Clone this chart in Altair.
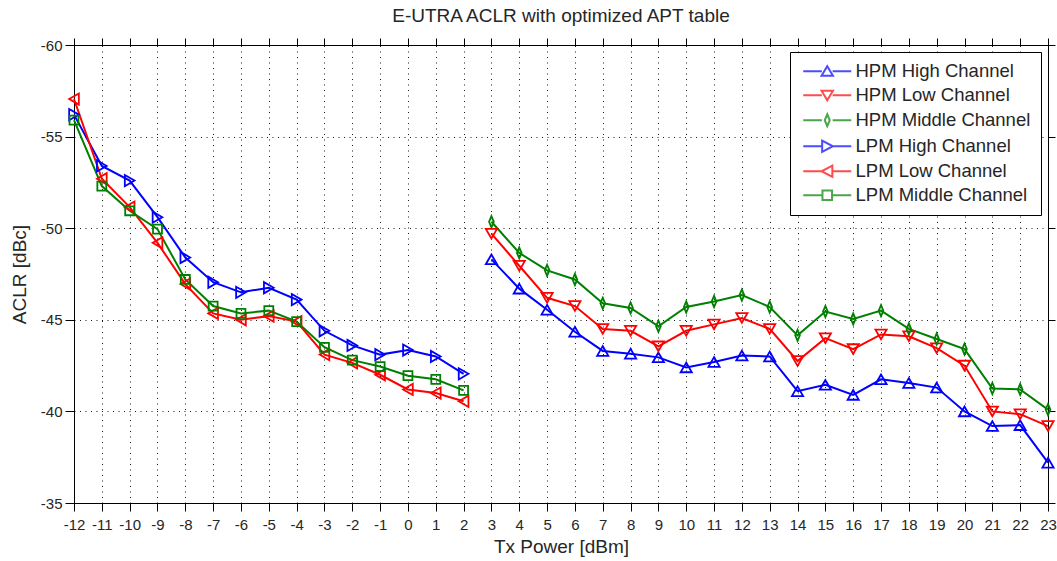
import altair as alt
import pandas as pd

series_names = ["HPM High Channel", "HPM Low Channel", "HPM Middle Channel",
                "LPM High Channel", "LPM Low Channel", "LPM Middle Channel"]
series_colors = ["#0000ff", "#ff0000", "#008000", "#0000ff", "#ff0000", "#008000"]

x_lpm = list(range(-12, 3))
lpm_high = [-56.2, -53.4, -52.6, -50.6, -48.4, -47.05, -46.5, -46.75, -46.1, -44.4, -43.6, -43.1, -43.35, -43.0, -42.05]
lpm_low = [-57.05, -52.7, -51.15, -49.2, -46.95, -45.35, -45.0, -45.2, -44.9, -43.1, -42.65, -42.0, -41.2, -41.0, -40.55]
lpm_mid = [-55.9, -52.3, -50.95, -49.95, -47.2, -45.75, -45.35, -45.5, -44.9, -43.5, -42.8, -42.45, -41.95, -41.75, -41.15]

x_hpm = list(range(3, 24))
hpm_high = [-48.3, -46.7, -45.55, -44.35, -43.3, -43.15, -42.95, -42.4, -42.7, -43.05, -43.0,
            -41.1, -41.45, -40.9, -41.75, -41.55, -41.3, -40.0, -39.2, -39.25, -37.2]
hpm_low = [-49.7, -47.95, -46.2, -45.75, -44.5, -44.4, -43.55, -44.4, -44.75, -45.1, -44.5,
           -42.75, -44.0, -43.4, -44.2, -44.1, -43.45, -42.5, -40.0, -39.85, -39.2]
hpm_mid = [-50.35, -48.65, -47.7, -47.2, -45.9, -45.65, -44.65, -45.7, -46.0, -46.35, -45.7,
           -44.15, -45.45, -45.05, -45.5, -44.5, -43.95, -43.4, -41.25, -41.2, -40.1]

x_ticks = list(range(-12, 24))
y_ticks = [-60, -55, -50, -45, -40, -35]

rows = []
for name, xs, ys in [
    ("HPM High Channel", x_hpm, hpm_high),
    ("HPM Low Channel", x_hpm, hpm_low),
    ("HPM Middle Channel", x_hpm, hpm_mid),
    ("LPM High Channel", x_lpm, lpm_high),
    ("LPM Low Channel", x_lpm, lpm_low),
    ("LPM Middle Channel", x_lpm, lpm_mid),
]:
    for xv, yv in zip(xs, ys):
        rows.append({"series": name, "x": xv, "y": yv})
df = pd.DataFrame(rows)

FONT = "Liberation Sans, Arial"

marker_shapes = ["triangle-up", "triangle-down", "M0,-1L0.42,0L0,1L-0.42,0Z",
                 "triangle-right", "triangle-left", "M-0.8,-0.8L0.8,-0.8L0.8,0.8L-0.8,0.8Z"]
# legend glyphs: line segment plus marker (unit = half of sqrt(size))
LINE = "M-1,0L2.1,0M3.9,0L7,0"
legend_shapes = [
    LINE + "M3,-0.85L3.95,0.75L2.05,0.75Z",
    LINE + "M2.05,-0.75L3.95,-0.75L3,0.85Z",
    LINE + "M3,-1L3.42,0L3,1L2.58,0Z",
    LINE + "M2.15,-0.95L3.95,0L2.15,0.95Z",
    LINE + "M3.85,-0.95L2.05,0L3.85,0.95Z",
    LINE + "M2.2,-0.8L3.8,-0.8L3.8,0.8L2.2,0.8Z",
]

x_scale = alt.Scale(domain=[-12, 23], nice=False, zero=False)
y_scale = alt.Scale(domain=[-60, -35], nice=False, zero=False, reverse=True)


def cscale():
    return alt.Scale(domain=series_names, range=series_colors)


x_main = alt.X("x:Q", scale=x_scale,
               axis=alt.Axis(values=x_ticks, title="Tx Power [dBm]", grid=True,
                             gridDash=[1, 4.5], gridColor="#000000", gridOpacity=0.9,
                             tickSize=8, labelPadding=6, labelFlush=False, labelOverlap=False,
                             labelExpr="'' + datum.value", titlePadding=5))
y_main = alt.Y("y:Q", scale=y_scale,
               axis=alt.Axis(values=y_ticks, title="ACLR [dBc]", grid=True,
                             gridDash=[1, 4.5], gridColor="#000000", gridOpacity=0.9,
                             tickSize=9, labelPadding=3, labelExpr="'' + datum.value",
                             titlePadding=11))

lines = alt.Chart(df).mark_line(strokeWidth=2).encode(
    x=x_main, y=y_main,
    color=alt.Color("series:N", scale=cscale(), legend=None),
    detail="series:N",
)

points = alt.Chart(df).mark_point(filled=False, size=125, strokeWidth=1.8, opacity=1).encode(
    x=alt.X("x:Q", scale=x_scale, axis=None),
    y=alt.Y("y:Q", scale=y_scale, axis=None),
    color=alt.Color("series:N", scale=cscale(), legend=None),
    shape=alt.Shape("series:N", scale=alt.Scale(domain=series_names, range=marker_shapes), legend=None),
)

leg = alt.Legend(title=None, orient="none", legendX=716, legendY=7,
                 fillColor="#ffffff", strokeColor="#000000", padding=10,
                 labelFont=FONT, labelFontSize=18.5, labelColor="#262626", labelLimit=400,
                 labelOffset=37, symbolStrokeWidth=2, symbolSize=144, rowPadding=5)

legend_layer = alt.Chart(df).transform_filter("false").mark_point(filled=False, size=144, strokeWidth=2).encode(
    x=alt.X("x:Q", scale=x_scale,
            axis=alt.Axis(orient="top", values=x_ticks, labels=False, title=None, grid=False, tickSize=7)),
    y=alt.Y("y:Q", scale=y_scale,
            axis=alt.Axis(orient="right", values=y_ticks, labels=False, title=None, grid=False, tickSize=7)),
    color=alt.Color("series:N", scale=cscale(), legend=leg),
    shape=alt.Shape("series:N", scale=alt.Scale(domain=series_names, range=legend_shapes), legend=leg),
)

chart = alt.layer(lines, points, legend_layer).resolve_scale(
    shape="independent", color="independent"
).resolve_axis(x="independent", y="independent").properties(
    width=974, height=458,
    padding={"left": 74, "top": 45, "right": 9, "bottom": 58},
    autosize=alt.AutoSizeParams(type="none"),
    title=alt.Title("E-UTRA ACLR with optimized APT table", font=FONT, fontSize=19,
                    fontWeight="normal", color="#262626", offset=12),
    background="#ffffff",
).configure_view(stroke="#000000", strokeWidth=1).configure_axis(
    domainColor="#000000", tickColor="#000000", labelColor="#262626", titleColor="#262626",
    labelFont=FONT, titleFont=FONT, labelFontSize=15, titleFontSize=19, titleFontWeight="normal",
)

chart.save("out.html", embed_options={"renderer": "svg", "actions": False})
